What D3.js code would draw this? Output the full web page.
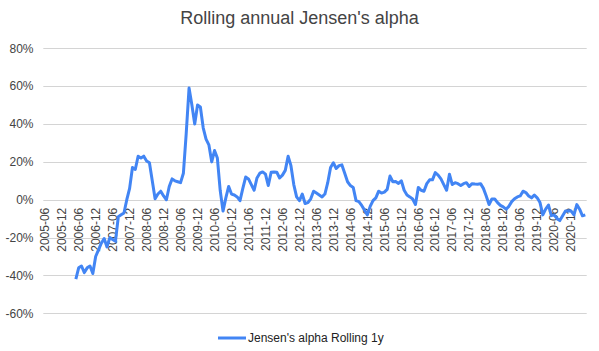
<!DOCTYPE html>
<html>
<head>
<meta charset="utf-8">
<script src="https://cdn.jsdelivr.net/npm/d3@7"></script>
<style>
  html, body { margin: 0; padding: 0; background: #fff; }
  svg { display: block; font-family: "Liberation Sans", Arial, sans-serif; }
</style>
</head>
<body>
<div id="chart"></div>
<script>
// Rolling annual Jensen's alpha, monthly, %

// Category axis runs monthly from 2005-06 to 2021-05
const firstMonth = new Date(2005, 5, 1);
const lastMonth = new Date(2021, 4, 1);

// Series starts at 2006-05 (earlier months are empty)
const seriesStart = '2006-05';
const alpha = [
    -42, -36, -35, -38.5, -36, -35, -39, -30, -26.5, -23, -20.5, -25,
    -20, -21, -22, -9, -8, -7, 0, 6, 17, 16, 23, 22,
    23, 20.5, 19.5, 10, 0.5, 3, 4.5, 2, 0, 7, 11, 10,
    9.5, 9, 14, 35, 59, 50, 40, 50, 49, 38, 32, 29,
    20, 26, 22, 5, -6, 1, 7, 3, 2.5, 1.5, -0.5, 6,
    12, 11, 8, 5, 11.5, 14, 14.7, 13.5, 7.5, 14.5, 14.7, 14.5,
    11.5, 13, 15.5, 23, 18, 8, 1.5, -0.5, 3, -2, -1.5, 0.5,
    4.5, 3.5, 2.5, 1.5, 3, 9, 17, 19.5, 16.5, 18, 18.4, 14,
    9.5, 7.5, 6.5, -0.5, -1, -3, -5.5, -8, -3.5, -0.5, 1, 4.5,
    3.5, 4, 5.5, 12.5, 9.5, 9.6, 8.6, 10, 5, 2.5, 1.5, 0.4,
    -2.5, 6.5, 5, 4.5, 8.5, 10.5, 10.5, 14.3, 13, 11, 8, 5,
    13.5, 8, 9, 8.5, 7.5, 8.5, 9, 7, 8.5, 8.3, 8.2, 8.5,
    6, 2, -2.5, 0.4, 0.4, -1.5, -3, -3.8, -5, -3.5, -1, 0.5,
    1.5, 2, 4.5, 3.8, 2, 1, 2.5, 1, -1.5, -8, -5, -2.8,
    -8.4, -8, -10, -11, -8.5, -6, -5.8, -6, -8, -2.6, -5, -8.5,
    -8
];

const yTicks = [-60, -40, -20, 0, 20, 40, 60, 80];
const seriesName = "Jensen's alpha Rolling 1y";
const titleText = "Rolling annual Jensen's alpha";

const fmtMonth = d3.timeFormat('%Y-%m');
const months = d3.timeMonth.range(firstMonth, d3.timeMonth.offset(lastMonth, 1)).map(fmtMonth);
const startIdx = months.indexOf(seriesStart);
const data = alpha.map((v, i) => ({ month: months[startIdx + i], value: v }));

const width = 599, height = 351;
const plot = { left: 43.3, right: 586.7, top: 48.3, bottom: 313.3 };

const svg = d3.select('#chart').append('svg')
    .attr('width', width)
    .attr('height', height);

const x = d3.scaleBand()
    .domain(months)
    .range([plot.left, plot.right]);

const y = d3.scaleLinear()
    .domain([-60, 80])
    .range([plot.bottom, plot.top]);

const cx = m => x(m) + x.bandwidth() / 2;

// Gridlines
svg.append('g')
    .selectAll('line')
    .data(yTicks)
    .join('line')
    .attr('x1', plot.left)
    .attr('x2', plot.right)
    .attr('y1', d => Math.round(y(d)) + 0.5)
    .attr('y2', d => Math.round(y(d)) + 0.5)
    .attr('stroke', '#d4d4d4')
    .attr('stroke-width', 1);

// Y labels
svg.append('g')
    .selectAll('text')
    .data(yTicks)
    .join('text')
    .attr('x', 33.5)
    .attr('y', d => y(d))
    .attr('dy', '0.35em')
    .attr('text-anchor', 'end')
    .style('font-size', '12px')
    .style('fill', '#444')
    .text(d => d + '%');

// X labels, every 6 months, hung from the zero line
const xLabels = months.filter((m, i) => i % 6 === 0);
svg.append('g')
    .selectAll('text')
    .data(xLabels)
    .join('text')
    .attr('transform', d => `translate(${cx(d)},${y(0) + 8}) rotate(-90)`)
    .attr('dy', '0.35em')
    .attr('text-anchor', 'end')
    .style('font-size', '12px')
    .style('fill', '#444')
    .text(d => d);

// Line
const line = d3.line()
    .x(d => cx(d.month))
    .y(d => y(d.value));

svg.append('path')
    .datum(data)
    .attr('d', line)
    .attr('fill', 'none')
    .attr('stroke', '#4285f4')
    .attr('stroke-width', 3)
    .attr('stroke-linejoin', 'round');

// Title
svg.append('text')
    .attr('x', width / 2)
    .attr('y', 18)
    .attr('dy', '0.35em')
    .attr('text-anchor', 'middle')
    .style('font-size', '18px')
    .style('fill', '#444')
    .text(titleText);

// Legend
const legend = svg.append('g')
    .attr('transform', 'translate(218, 338)');

legend.append('line')
    .attr('x1', 0)
    .attr('x2', 28)
    .attr('y1', 0)
    .attr('y2', 0)
    .attr('stroke', '#4285f4')
    .attr('stroke-width', 3);

legend.append('text')
    .attr('x', 30)
    .attr('y', 0)
    .attr('dy', '0.35em')
    .style('font-size', '12px')
    .style('fill', '#222')
    .text(seriesName);
</script>
</body>
</html>
